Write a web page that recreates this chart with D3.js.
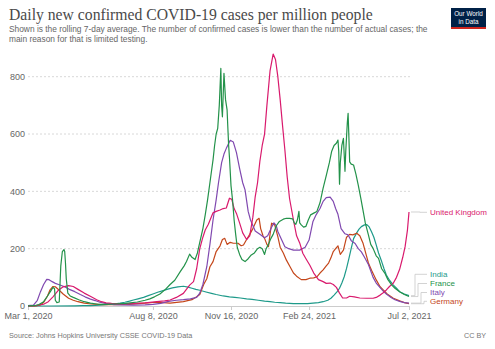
<!DOCTYPE html>
<html><head><meta charset="utf-8">
<script src="https://cdn.jsdelivr.net/npm/d3@7"></script>
<style>body{margin:0;background:#fff}svg{display:block}text{font-family:"Liberation Sans",Arial,sans-serif}</style>
</head><body><svg id="c" width="495" height="349"></svg>
<script>
// ---- data (day offsets from Mar 1, 2020; values = cases per million, 7-day avg) ----
const startUTC = Date.UTC(2020, 2, 1);
const xTickDays = [0, 160, 260, 360, 488];
const xTickLabels = ["Mar 1, 2020", "Aug 8, 2020", "Nov 16, 2020", "Feb 24, 2021", "Jul 2, 2021"];
const yTicks = [0, 200, 400, 600, 800];
const countryNames = ["United Kingdom", "India", "France", "Italy", "Germany"];

const ukData = [[0,0],[10,1],[20,6],[26,15],[32,32],[39,55],[45,67],[52,71],[58,68],[64,58],[72,45],[81,32],[88,22],[94,15],[100,11],[107,9],[120,8],[135,9],[150,11],[165,15],[175,18],[182,21],[190,30],[199,44],[207,73],[212,85],[216,130],[220,200],[224,240],[227,265],[231,285],[237,325],[241,330],[246,335],[250,340],[254,342],[258,376],[261,372],[264,340],[267,323],[271,290],[275,255],[280,232],[284,245],[288,310],[291,381],[294,430],[297,505],[300,560],[303,600],[306,700],[310,820],[314,879],[317,860],[320,800],[323,720],[326,630],[329,545],[332,450],[335,375],[340,300],[344,245],[348,220],[352,184],[356,165],[361,142],[366,115],[372,92],[378,85],[382,79],[387,80],[391,75],[395,65],[399,45],[403,28],[408,28],[412,34],[418,32],[425,28],[434,27],[442,27],[446,30],[451,38],[455,46],[459,56],[463,68],[468,80],[472,100],[476,128],[480,170],[483,207],[486,265],[488,328]];
const indiaData = [[0,0],[30,0],[60,0.3],[70,1],[80,1.5],[92,3],[100,5],[110,7],[118,10],[124,13],[130,17],[135,21],[141,25],[148,30],[154,36],[160,42],[166,48],[172,53],[178,58],[185,63],[192,67],[199,69],[205,66],[210,62],[215,58],[220,55],[228,49],[235,44],[241,40],[250,35],[258,32],[265,30],[272,28],[280,25],[287,23],[295,20],[303,17],[310,15],[316,13],[323,12],[330,10],[340,8],[350,8],[358,8],[365,10],[372,12],[378,15],[384,20],[388,27],[392,38],[396,50],[399,62],[402,80],[405,102],[408,131],[411,165],[414,201],[417,235],[421,255],[424,268],[427,277],[431,283],[434,284],[437,276],[440,259],[443,240],[446,213],[449,185],[453,155],[456,130],[459,108],[463,90],[468,73],[472,62],[476,50],[482,42],[488,36]];
const franceData = [[0,0.2],[8,1],[14,5],[20,15],[25,35],[29,52],[32,65],[34,60],[35,20],[37,12],[40,14],[42,140],[44,190],[46,197],[47,190],[48,150],[49,95],[51,45],[54,35],[58,30],[65,22],[72,15],[80,10],[90,6],[100,6],[110,7],[125,9],[140,14],[150,20],[156,25],[162,32],[169,42],[176,58],[182,75],[188,90],[195,120],[200,140],[203,155],[207,181],[210,170],[214,162],[217,185],[220,222],[224,270],[227,318],[230,370],[233,430],[235,470],[237,510],[239,560],[241,600],[243,620],[245,700],[247,829],[248,700],[249,660],[251,812],[253,720],[255,684],[256,620],[257,560],[258,520],[259,470],[260,420],[262,370],[264,300],[266,250],[268,205],[271,180],[274,162],[278,155],[282,165],[286,178],[290,185],[294,200],[297,205],[300,200],[303,180],[305,200],[308,215],[311,235],[314,250],[318,280],[322,295],[327,303],[331,306],[335,306],[339,304],[341,290],[343,285],[345,300],[347,330],[348,290],[350,283],[353,275],[356,278],[359,300],[362,318],[366,324],[370,330],[374,360],[378,411],[382,455],[386,500],[389,540],[392,560],[395,568],[397,579],[398,540],[399,425],[400,500],[402,560],[404,585],[406,470],[407,540],[409,640],[410,672],[411,590],[412,503],[414,495],[417,492],[420,460],[423,422],[426,380],[429,335],[432,290],[436,248],[439,215],[442,201],[446,175],[449,166],[453,130],[457,115],[461,92],[466,73],[470,62],[476,50],[482,40],[488,33]];
const italyData = [[0,1],[7,3],[12,20],[16,50],[20,75],[24,93],[27,92],[31,85],[35,79],[40,74],[47,67],[53,58],[60,50],[67,40],[73,32],[80,24],[86,19],[92,13],[99,9],[110,5],[120,4],[135,3],[150,4],[160,6],[170,9],[180,16],[190,20],[199,22],[208,25],[216,30],[220,45],[224,75],[229,137],[233,215],[237,300],[241,370],[244,430],[248,500],[251,530],[254,550],[259,578],[263,572],[267,535],[271,480],[275,430],[278,405],[282,330],[285,300],[291,262],[297,250],[303,238],[307,245],[312,275],[315,290],[318,280],[320,260],[325,230],[329,207],[334,200],[340,195],[348,195],[355,205],[360,230],[365,295],[369,318],[374,340],[378,365],[382,378],[387,380],[391,365],[394,340],[397,320],[401,270],[406,252],[410,248],[414,228],[419,218],[423,200],[427,189],[431,170],[436,145],[442,100],[446,80],[451,64],[455,52],[459,42],[465,30],[470,22],[476,16],[482,12],[488,10]];
const germanyData = [[0,0],[10,0.5],[15,3],[20,12],[25,35],[28,55],[32,68],[35,67],[40,55],[45,42],[52,27],[58,20],[64,15],[72,10],[81,7],[95,5],[110,5],[130,6],[150,10],[165,13],[182,10],[199,15],[210,22],[216,32],[220,40],[225,75],[229,95],[233,137],[237,155],[241,190],[246,210],[249,232],[252,236],[255,215],[259,222],[263,219],[269,219],[273,210],[276,213],[280,232],[284,250],[288,270],[293,300],[296,306],[298,270],[301,245],[303,236],[306,215],[308,207],[310,250],[312,289],[316,283],[320,242],[323,205],[327,185],[331,160],[336,135],[340,115],[344,104],[350,92],[356,92],[361,97],[366,98],[370,102],[374,115],[378,126],[382,140],[385,150],[388,168],[391,190],[394,200],[397,210],[400,180],[404,195],[408,240],[412,250],[416,248],[421,254],[425,245],[429,220],[433,180],[436,150],[440,125],[446,91],[451,67],[455,56],[460,42],[468,27],[476,18],[482,12],[488,8]];
const seriesColors = ["#D91A6D", "#1E9A8A", "#23924A", "#8049B0", "#C4461A"];

// ---- chart ----
const svg = d3.select("#c");
const dayToDate = d => new Date(startUTC + d * 86400000);
const x = d3.scaleUtc().domain([dayToDate(0), dayToDate(488)]).range([28, 409]);
const y = d3.scaleLinear().domain([0, 800]).range([306, 76.7]);

function fitText(sel, target) {
  const w = sel.node().getComputedTextLength();
  const fs = parseFloat(sel.attr("font-size"));
  sel.attr("font-size", (fs * target / w).toFixed(2));
}

// title
fitText(svg.append("text").attr("x", 9).attr("y", 20).attr("font-size", 15)
  .attr("fill", "#4a4a4a").style("font-family", "'Liberation Serif','DejaVu Serif',serif")
  .text("Daily new confirmed COVID-19 cases per million people"), 364);
const sub1 = svg.append("text").attr("x", 9).attr("y", 32).attr("font-size", 8.3).attr("fill", "#666")
  .text("Shown is the rolling 7-day average. The number of confirmed cases is lower than the number of actual cases; the");
fitText(sub1, 419);
const subFs = sub1.attr("font-size");
svg.append("text").attr("x", 9).attr("y", 42).attr("font-size", subFs).attr("fill", "#666")
  .text("main reason for that is limited testing.");

// logo
const logo = svg.append("g");
logo.append("rect").attr("x", 451).attr("y", 8).attr("width", 35).attr("height", 21).attr("fill", "#002147");
logo.append("rect").attr("x", 451).attr("y", 27).attr("width", 35).attr("height", 2).attr("fill", "#ce261e");
logo.append("text").attr("x", 468.5).attr("y", 16).attr("text-anchor", "middle").attr("font-size", 6.3).attr("fill", "#fff").text("Our World");
logo.append("text").attr("x", 468.5).attr("y", 23.5).attr("text-anchor", "middle").attr("font-size", 6.3).attr("fill", "#fff").text("in Data");

// grid + y labels
const yAxis = d3.axisLeft(y).tickValues(yTicks).tickSize(0).tickPadding(3);
const gy = svg.append("g").attr("transform", "translate(25,0)").call(yAxis);
gy.select(".domain").remove();
gy.selectAll("text").attr("font-size", 9).attr("fill", "#666").style("font-family", "'Liberation Sans',Arial,sans-serif").attr("x", 0);
svg.append("g").selectAll("line").data(yTicks.filter(v => v > 0)).join("line")
  .attr("x1", 28).attr("x2", 410).attr("y1", d => y(d)).attr("y2", d => y(d))
  .attr("stroke", "#d8d8d8").attr("stroke-width", 1).attr("stroke-dasharray", "2,2");

// x axis
const xAxis = d3.axisBottom(x).tickValues(xTickDays.map(dayToDate)).tickSize(4).tickPadding(3)
  .tickFormat((d, i) => xTickLabels[i]);
const gx = svg.append("g").attr("transform", "translate(0,306)").call(xAxis);
gx.select(".domain").attr("stroke", "#ccc").attr("d", "M28,0.5H410");
gx.selectAll(".tick line").attr("stroke", "#ccc");
gx.selectAll("text").attr("font-size", 9).attr("fill", "#666").style("font-family", "'Liberation Sans',Arial,sans-serif");

// lines
const allSeries = [ukData, indiaData, franceData, italyData, germanyData];
const line = d3.line().x(d => x(dayToDate(d[0]))).y(d => y(d[1])).curve(d3.curveLinear);
const drawOrder = [1, 4, 3, 0, 2];
svg.append("g").selectAll("path").data(drawOrder).join("path")
  .attr("d", i => line(allSeries[i])).attr("fill", "none")
  .attr("stroke", i => seriesColors[i]).attr("stroke-width", 1.2).attr("stroke-linejoin", "round");

// labels with connectors
const labelY = [212.3, 274.3, 283.5, 292.5, 301.3];
const elbowX = [420, 415, 418, 421, 424];
const lg = svg.append("g");
countryNames.forEach((name, i) => {
  const s = allSeries[i];
  const last = s[s.length - 1];
  const ex = x(dayToDate(last[0])), ey = y(last[1]);
  lg.append("path").attr("d", `M${ex + 2},${ey}H${elbowX[i]}V${labelY[i]}H${427}`)
    .attr("fill", "none").attr("stroke", "#c8c8c8").attr("stroke-width", 0.8);
  lg.append("text").attr("x", 430).attr("y", labelY[i]).attr("dy", "0.34em").attr("font-size", 8)
    .attr("fill", seriesColors[i]).text(name);
});

// footer
fitText(svg.append("text").attr("x", 9).attr("y", 338).attr("font-size", 7.2).attr("fill", "#777")
  .text("Source: Johns Hopkins University CSSE COVID-19 Data"), 183);
svg.append("text").attr("x", 486).attr("y", 338).attr("text-anchor", "end").attr("font-size", 7.2).attr("fill", "#777").text("CC BY");
</script></body></html>
